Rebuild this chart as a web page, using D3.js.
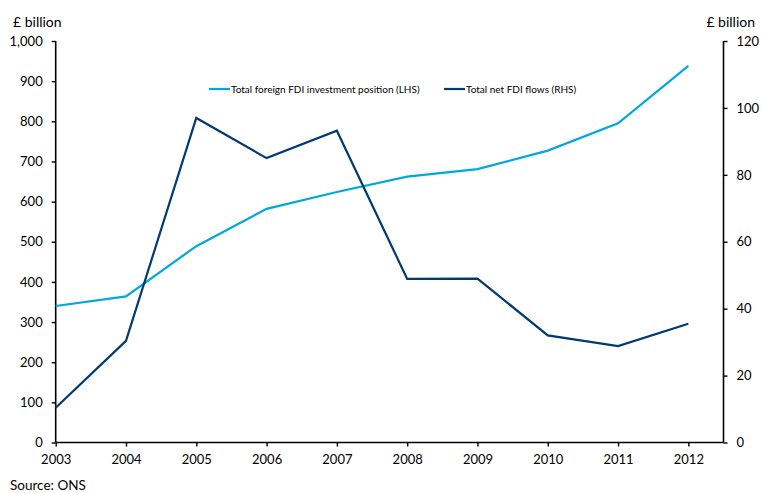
<!DOCTYPE html>
<html>
<head>
<meta charset="utf-8">
<script src="https://cdn.jsdelivr.net/npm/d3@7"></script>
<style>
  html, body { margin: 0; padding: 0; background: #fff; }
  svg { display: block; font-family: Lato, "Open Sans", sans-serif; }
</style>
</head>
<body>
<svg id="chart" width="761" height="493"></svg>
<script>
// FDI data, £ billion
const years = [2003, 2004, 2005, 2006, 2007, 2008, 2009, 2010, 2011, 2012];
const fdiPosition = [340, 364, 489, 582, 624, 662, 681, 727, 795, 938];   // left axis
const fdiFlows = [10.4, 30.4, 97.0, 85.0, 93.2, 48.9, 49.0, 32.0, 28.8, 35.5]; // right axis
const leftTicks = [0, 100, 200, 300, 400, 500, 600, 700, 800, 900, 1000];
const rightTicks = [0, 20, 40, 60, 80, 100, 120];
const seriesNames = ["Total foreign FDI investment position (LHS)", "Total net FDI flows (RHS)"];
const seriesColors = ["#00A8DE", "#003A70"];

const svg = d3.select("#chart");
const plotLeft = 55.7, plotRight = 723.5, plotTop = 41, plotBottom = 442.5;

const x = d3.scaleLinear().domain([2003, 2012.5]).range([plotLeft, plotRight]);
const yL = d3.scaleLinear().domain([0, 1000]).range([plotBottom, plotTop]);
const yR = d3.scaleLinear().domain([0, 120]).range([plotBottom, plotTop]);

const axisColor = "#000";

// Left axis
const gL = svg.append("g").attr("transform", `translate(${plotLeft},0)`)
  .call(d3.axisLeft(yL).tickValues(leftTicks).tickSize(4).tickPadding(9)
    .tickFormat(d3.format(",")));
// Right axis
const gR = svg.append("g").attr("transform", `translate(${plotRight},0)`)
  .call(d3.axisRight(yR).tickValues(rightTicks).tickSize(4).tickPadding(9));
// Bottom axis
const gX = svg.append("g").attr("transform", `translate(0,${plotBottom})`)
  .call(d3.axisBottom(x).tickValues(years).tickSize(4).tickPadding(8)
    .tickFormat(d3.format("d")));

[gL, gR, gX].forEach(g => {
  g.select(".domain").attr("stroke", axisColor).attr("stroke-width", 1.6);
  g.selectAll(".tick line").attr("stroke", axisColor).attr("stroke-width", 1.4);
  g.selectAll(".tick text").attr("fill", "#000").style("font-size", "13px")
    .style("font-family", "Lato, 'Open Sans', sans-serif");
});
gX.select(".domain").attr("d", `M${plotLeft},0H${plotRight}`);
gL.select(".domain").attr("d", `M0,${plotBottom}V${plotTop}`);
gR.select(".domain").attr("d", `M0,${plotBottom}V${plotTop}`);

// Axis unit labels
svg.append("text").attr("x", 13).attr("y", 27).text("£ billion")
  .style("font-size", "14px").attr("fill", "#000");
svg.append("text").attr("x", 755).attr("y", 27).attr("text-anchor", "end").text("£ billion")
  .style("font-size", "14px").attr("fill", "#000");

// Lines
const lineL = d3.line().x((d, i) => x(years[i])).y(d => yL(d));
const lineR = d3.line().x((d, i) => x(years[i])).y(d => yR(d));

svg.append("path").datum(fdiPosition).attr("d", lineL)
  .attr("fill", "none").attr("stroke", seriesColors[0]).attr("stroke-width", 2.2)
  .attr("stroke-linejoin", "miter");
svg.append("path").datum(fdiFlows).attr("d", lineR)
  .attr("fill", "none").attr("stroke", seriesColors[1]).attr("stroke-width", 2.2)
  .attr("stroke-linejoin", "miter");

// Legend
const legendX = [209, 444];
seriesNames.forEach((name, i) => {
  const g = svg.append("g").attr("transform", `translate(${legendX[i]},89)`);
  g.append("line").attr("x1", 0).attr("x2", 21).attr("y1", 0).attr("y2", 0)
    .attr("stroke", seriesColors[i]).attr("stroke-width", 2.2);
  g.append("text").attr("x", 22).attr("y", 3.5).text(name)
    .style("font-size", "10px").attr("fill", "#000");
});

// Source note
svg.append("text").attr("x", 10).attr("y", 490).text("Source: ONS")
  .style("font-size", "13.5px").attr("fill", "#000");
</script>
</body>
</html>
